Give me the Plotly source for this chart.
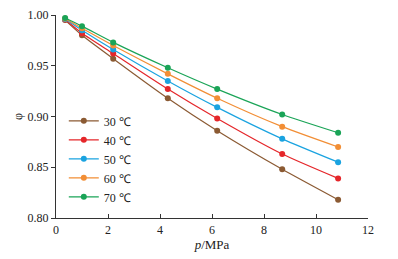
import plotly.graph_objects as go

pressure = [0.35, 1.0, 2.2, 4.3, 6.2, 8.7, 10.85]
phi_30 = [0.995, 0.980, 0.957, 0.918, 0.886, 0.848, 0.818]
phi_40 = [0.9955, 0.982, 0.962, 0.927, 0.898, 0.863, 0.839]
phi_50 = [0.996, 0.985, 0.966, 0.935, 0.909, 0.878, 0.855]
phi_60 = [0.9965, 0.987, 0.970, 0.942, 0.918, 0.890, 0.870]
phi_70 = [0.997, 0.989, 0.973, 0.948, 0.927, 0.902, 0.884]
labels = ["30 ℃", "40 ℃", "50 ℃", "60 ℃", "70 ℃"]
colors = ["#8B5A33", "#E5262A", "#1AA3E0", "#F28E35", "#1AA457"]

fig = go.Figure()
for lab, ys, c in zip(labels, [phi_30, phi_40, phi_50, phi_60, phi_70], colors):
    fig.add_trace(go.Scatter(
        x=pressure, y=ys, name=lab, mode="lines+markers",
        line=dict(color=c, width=1.2, shape="spline", smoothing=0.6),
        marker=dict(color=c, size=6),
    ))

font = dict(family="Liberation Serif, Times New Roman, serif", size=12, color="#222")
fig.update_layout(
    width=390, height=251,
    margin=dict(l=48, r=30, t=7, b=41),
    paper_bgcolor="white", plot_bgcolor="white",
    font=font,
    showlegend=True,
    legend=dict(x=0.025, y=0.55, xanchor="left", yanchor="top",
                bgcolor="rgba(0,0,0,0)", font=dict(size=12),
                tracegroupgap=0, itemwidth=30),
    xaxis=dict(range=[0, 12], tickvals=[0, 2, 4, 6, 8, 10, 12],
               ticks="inside", ticklen=4, tickcolor="#333",
               showline=True, linecolor="#333", linewidth=1.2,
               showgrid=False, zeroline=False, automargin=False,
               ticklabeloverflow="allow",
               title=dict(text="<i>p</i>/MPa", standoff=4, font=dict(size=13))),
    yaxis=dict(range=[0.80, 1.00], tickvals=[0.80, 0.85, 0.90, 0.95, 1.00],
               tickformat=".2f",
               ticks="outside", ticklen=4, tickcolor="#333",
               showline=True, linecolor="#333", linewidth=1.2,
               showgrid=False, zeroline=False, automargin=False,
               ticklabeloverflow="allow",
               title=dict(text="φ", standoff=2, font=dict(size=12))),
)
fig.write_html("out.html")
